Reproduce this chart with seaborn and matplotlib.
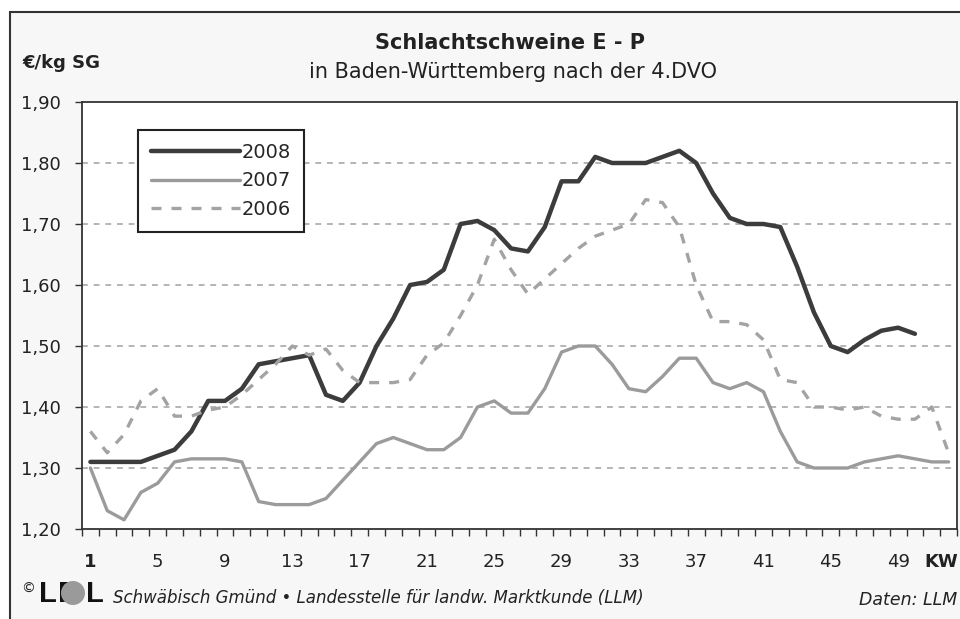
import numpy as np
import pandas as pd
import matplotlib
matplotlib.use('Agg')
import matplotlib.pyplot as plt
import seaborn as sns
from matplotlib.patches import Rectangle, Ellipse
from matplotlib.lines import Line2D

sns.set_style('white')
plt.rcParams['font.family'] = ['DejaVu Sans']

# Kalenderwochen und Preise (EUR/kg SG)
weeks_2008 = list(range(1, 51))
price_2008 = [1.31, 1.31, 1.31, 1.31, 1.32, 1.33, 1.36, 1.41, 1.41, 1.43,
              1.47, 1.475, 1.48, 1.485, 1.42, 1.41, 1.44, 1.50, 1.545, 1.60,
              1.605, 1.625, 1.70, 1.705, 1.69, 1.66, 1.655, 1.695, 1.77, 1.77,
              1.81, 1.80, 1.80, 1.80, 1.81, 1.82, 1.80, 1.75, 1.71, 1.70,
              1.70, 1.695, 1.63, 1.555, 1.50, 1.49, 1.51, 1.525, 1.53, 1.52]

weeks_2007 = list(range(1, 53))
price_2007 = [1.30, 1.23, 1.215, 1.26, 1.275, 1.31, 1.315, 1.315, 1.315, 1.31,
              1.245, 1.24, 1.24, 1.24, 1.25, 1.28, 1.31, 1.34, 1.35, 1.34,
              1.33, 1.33, 1.35, 1.40, 1.41, 1.39, 1.39, 1.43, 1.49, 1.50,
              1.50, 1.47, 1.43, 1.425, 1.45, 1.48, 1.48, 1.44, 1.43, 1.44,
              1.425, 1.36, 1.31, 1.30, 1.30, 1.30, 1.31, 1.315, 1.32, 1.315,
              1.31, 1.31]

weeks_2006 = list(range(1, 53))
price_2006 = [1.36, 1.325, 1.355, 1.41, 1.43, 1.385, 1.385, 1.395, 1.40, 1.42,
              1.445, 1.47, 1.50, 1.485, 1.495, 1.46, 1.44, 1.44, 1.44, 1.445,
              1.485, 1.505, 1.55, 1.60, 1.675, 1.625, 1.585, 1.61, 1.635, 1.66,
              1.68, 1.69, 1.70, 1.74, 1.735, 1.695, 1.60, 1.54, 1.54, 1.535,
              1.51, 1.445, 1.44, 1.40, 1.40, 1.395, 1.40, 1.385, 1.38, 1.38,
              1.40, 1.325]

xtick_weeks = [1, 5, 9, 13, 17, 21, 25, 29, 33, 37, 41, 45, 49]
yticks = [1.20, 1.30, 1.40, 1.50, 1.60, 1.70, 1.80, 1.90]

W, H = 960, 619
fig = plt.figure(figsize=(W / 100, H / 100), dpi=100, facecolor='white')


def px(x, y):
    return x / W, 1 - y / H


# Rahmen des Diagramms (hinter den Achsen)
frame = Rectangle((10 / W, -0.1), 1.0, 1 - 12 / H + 0.1,
                  transform=fig.transFigure, facecolor='#f7f7f7',
                  edgecolor='#333333', linewidth=1.5, zorder=-10)
fig.add_artist(frame)

ax = fig.add_axes([82 / W, 1 - 529 / H, (957 - 82) / W, (529 - 102) / H])
ax.set_facecolor('white')

series = [
    ('2008', weeks_2008, price_2008, '#3c3c3c', 3.2, '-'),
    ('2007', weeks_2007, price_2007, '#9b9b9b', 2.4, '-'),
    ('2006', weeks_2006, price_2006, '#a3a3a3', 2.4, (0, (3, 3))),
]
for name, wk, pr, col, lw, ls in series:
    df = pd.DataFrame({'KW': wk, 'Preis': pr})
    sns.lineplot(data=df, x='KW', y='Preis', ax=ax, color=col, linewidth=lw,
                 linestyle=ls, legend=False, zorder=3)

ax.set_xlim(0.5, 52.5)
ax.set_ylim(1.20, 1.90)
ax.set_xlabel('')
ax.set_ylabel('')

for y in yticks[1:-1]:
    ax.axhline(y, color='#a8a8a8', linewidth=1.2, linestyle=(0, (3.5, 3.5)), zorder=1)

ax.set_yticks(yticks)
ax.set_yticklabels([f'{v:.2f}'.replace('.', ',') for v in yticks], fontsize=13)
ax.tick_params(axis='y', direction='out', length=5, width=1, pad=10, color='#333333',
               left=True, labelcolor='#222222')

ax.set_xticks(xtick_weeks)
ax.set_xticklabels([str(w) for w in xtick_weeks], fontsize=13)
ax.get_xticklabels()[0].set_fontweight('bold')
ax.set_xticks(np.arange(0.5, 53, 1.0), minor=True)
ax.tick_params(axis='x', which='major', length=0, pad=17.5, labelcolor='#222222')
ax.tick_params(axis='x', which='minor', direction='out', length=5, width=1,
               color='#333333', bottom=True)

for sp in ax.spines.values():
    sp.set_color('#333333')
    sp.set_linewidth(1.3)

handles = [Line2D([], [], color=c, linewidth=lw, linestyle=ls) for _, _, _, c, lw, ls in series]
leg = ax.legend(handles, [s[0] for s in series], loc='upper left',
                bbox_to_anchor=(56 / 875, 1 - 28 / 427), fontsize=14,
                frameon=True, fancybox=False, handlelength=4.6, handletextpad=0.1,
                borderpad=0.65, labelspacing=0.5, borderaxespad=0)
leg.get_frame().set_edgecolor('#222222')
leg.get_frame().set_linewidth(1.5)
leg.get_frame().set_facecolor('white')
leg.get_frame().set_alpha(1)

fig.text(*px(510, 43), 'Schlachtschweine E - P', ha='center', va='center',
         fontsize=15, fontweight='bold', color='#222222')
fig.text(*px(513, 72), 'in Baden-Württemberg nach der 4.DVO', ha='center',
         va='center', fontsize=15, color='#222222')
fig.text(*px(22, 63), '€/kg SG', ha='left', va='center', fontsize=13,
         fontweight='bold', color='#222222')
fig.text(*px(941, 562), 'KW', ha='center', va='center', fontsize=13,
         fontweight='bold', color='#222222')

# Logo LEL
logo_font = ['Liberation Sans', 'DejaVu Sans']
fig.text(*px(21, 589), '©', ha='left', va='center', fontsize=10, color='#222222')
fig.text(*px(39, 594), 'L', ha='left', va='center', fontsize=21, family=logo_font,
         fontweight='bold', color='#111111')
fig.text(*px(58, 594), 'E', ha='left', va='center', fontsize=21, family=logo_font,
         fontweight='bold', color='#111111', zorder=3)
fig.add_artist(Ellipse(px(73, 593), 24 / W, 24 / H, transform=fig.transFigure,
                       facecolor='#9a9a9a', edgecolor='none', zorder=4))
fig.text(*px(86, 594), 'L', ha='left', va='center', fontsize=21, family=logo_font,
         fontweight='bold', color='#111111')

fig.text(*px(113, 598),
         'Schwäbisch Gmünd • Landesstelle für landw. Marktkunde (LLM)',
         ha='left', va='center', fontsize=12, style='italic', color='#222222')
fig.text(*px(957, 600), 'Daten: LLM', ha='right', va='center',
         fontsize=12.5, style='italic', color='#222222')

fig.savefig('out.png', dpi=100, facecolor='white')
